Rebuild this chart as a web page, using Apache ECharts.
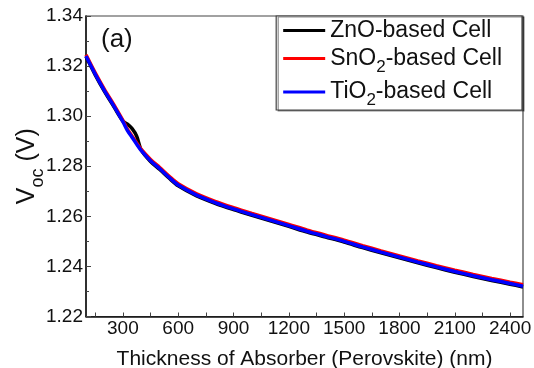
<!DOCTYPE html>
<html>
<head>
<meta charset="utf-8">
<script src="https://cdn.jsdelivr.net/npm/echarts@6/dist/echarts.min.js"></script>
<style>
html,body{margin:0;padding:0;background:#fff;}
#chart{width:534px;height:368px;}
</style>
</head>
<body>
<div id="chart"></div>
<script>
// Data
var thickness = [100,150,200,250,300,325,350,375,400,450,500,550,600,700,800,900,1000,1100,1200,1300,1400,1500,1600,1700,1800,1900,2000,2100,2200,2300,2400,2470];
var znoVoc  = [1.3238,1.3165,1.3099,1.3039,1.2980,1.2968,1.2950,1.2920,1.2864,1.2819,1.2787,1.2753,1.2722,1.2682,1.2652,1.2627,1.2604,1.2582,1.2560,1.2537,1.2517,1.2497,1.2475,1.2454,1.2434,1.2414,1.2395,1.2377,1.2360,1.2344,1.2329,1.2318];
var sno2Voc = [1.3245,1.3173,1.3107,1.3047,1.2983,1.2947,1.2920,1.2893,1.2867,1.2827,1.2795,1.2761,1.2730,1.2690,1.2660,1.2635,1.2612,1.2590,1.2568,1.2545,1.2525,1.2505,1.2483,1.2462,1.2442,1.2422,1.2403,1.2385,1.2368,1.2352,1.2337,1.2327];
var tio2Voc = [1.3240,1.3168,1.3102,1.3042,1.2978,1.2942,1.2915,1.2888,1.2862,1.2822,1.2790,1.2756,1.2725,1.2685,1.2655,1.2630,1.2607,1.2585,1.2563,1.2540,1.2520,1.2500,1.2478,1.2457,1.2437,1.2417,1.2398,1.2380,1.2363,1.2347,1.2332,1.2321];
var xTickLabels = [300,600,900,1200,1500,1800,2100,2400];
var xTicks = [150,300,450,600,750,900,1050,1200,1350,1500,1650,1800,1950,2100,2250,2400];
var seriesNames = ['ZnO-based Cell','SnO2-based Cell','TiO2-based Cell'];

function pairs(xs, ys){ return xs.map(function(x,i){ return [x, ys[i]]; }); }

var FONT = '"Liberation Sans", Arial, sans-serif';
var chart = echarts.init(document.getElementById('chart'), null, {renderer:'canvas'});
var option = {
  backgroundColor: '#fff',
  animation: false,
  title: {
    text: '(a)', left: 96, top: 22,
    textStyle: {fontFamily: FONT, fontSize: 26, fontWeight: 'normal', color: '#111'}
  },
  grid: {left: 86, right: 11, top: 16, bottom: 51.5, show: true, borderColor: '#444', borderWidth: 1.2,
         containLabel: false, outerBoundsMode: 'none'},
  legend: {
    orient: 'vertical', right: 12, top: 16,
    data: seriesNames,
    icon: 'rect', itemWidth: 42, itemHeight: 3, itemGap: 5,
    padding: [3, 20, 1, 7],
    borderColor: '#444', borderWidth: 1.2, backgroundColor: '#fff',
    shadowColor: 'rgba(0,0,0,0.45)', shadowOffsetX: 2, shadowOffsetY: 1, shadowBlur: 0,
    formatter: function(name){
      if (name === 'ZnO-based Cell') return '{m|ZnO-based Cell}';
      if (name === 'SnO2-based Cell') return '{m|SnO}{s|2}{m|-based Cell}';
      return '{m|TiO}{s|2}{m|-based Cell}';
    },
    textStyle: {
      fontFamily: FONT, color: '#111',
      rich: {
        m: {fontFamily: FONT, fontSize: 23, lineHeight: 24, color: '#111'},
        s: {fontFamily: FONT, fontSize: 17, lineHeight: 34, verticalAlign: 'bottom', color: '#111'}
      }
    }
  },
  xAxis: {
    type: 'value', min: 100, max: 2470,
    name: 'Thickness of Absorber (Perovskite) (nm)', nameLocation: 'middle', nameGap: 32,
    nameMoveOverlap: false,
    nameTextStyle: {fontFamily: FONT, fontSize: 21, color: '#111'},
    axisLine: {show: true, lineStyle: {color: '#111', width: 1.5}},
    axisTick: {show: true, inside: true, length: 4, customValues: xTicks, lineStyle: {color: '#444'}},
    axisLabel: {customValues: xTickLabels, fontFamily: FONT, fontSize: 19, color: '#111', margin: 3,
      formatter: function(v){ return String(v); }},
    splitLine: {show: false}
  },
  yAxis: {
    type: 'value', min: 1.22, max: 1.34, interval: 0.02,
    name: '{v|V}{s|oc}{v| (V)}', nameLocation: 'middle', nameGap: 39, nameRotate: 90,
    nameMoveOverlap: false,
    nameTextStyle: {
      fontFamily: FONT, color: '#111',
      rich: {
        v: {fontFamily: FONT, fontSize: 25, lineHeight: 26, color: '#111'},
        s: {fontFamily: FONT, fontSize: 18, lineHeight: 40, verticalAlign: 'bottom', color: '#111'}
      }
    },
    axisLine: {show: true, lineStyle: {color: '#111', width: 1.5}},
    axisTick: {show: true, inside: true, length: 5, lineStyle: {color: '#444'}},
    minorTick: {show: true, splitNumber: 2, length: 3, lineStyle: {color: '#444'}},
    axisLabel: {fontFamily: FONT, fontSize: 19, color: '#111', margin: 3,
      formatter: function(v){ return v.toFixed(2); }},
    splitLine: {show: false}
  },
  series: [
    {name: seriesNames[0], type: 'line', data: pairs(thickness, znoVoc), showSymbol: false, smooth: 0.3,
     lineStyle: {color: '#000', width: 3.5}, itemStyle: {color: '#000'}, z: 2},
    {name: seriesNames[1], type: 'line', data: pairs(thickness, sno2Voc), showSymbol: false, smooth: 0.3,
     lineStyle: {color: '#ff0000', width: 3.5}, itemStyle: {color: '#ff0000'}, z: 3},
    {name: seriesNames[2], type: 'line', data: pairs(thickness, tio2Voc), showSymbol: false, smooth: 0.3,
     lineStyle: {color: '#0000ff', width: 3.5}, itemStyle: {color: '#0000ff'}, z: 4}
  ]
};
chart.setOption(option);
</script>
</body>
</html>
